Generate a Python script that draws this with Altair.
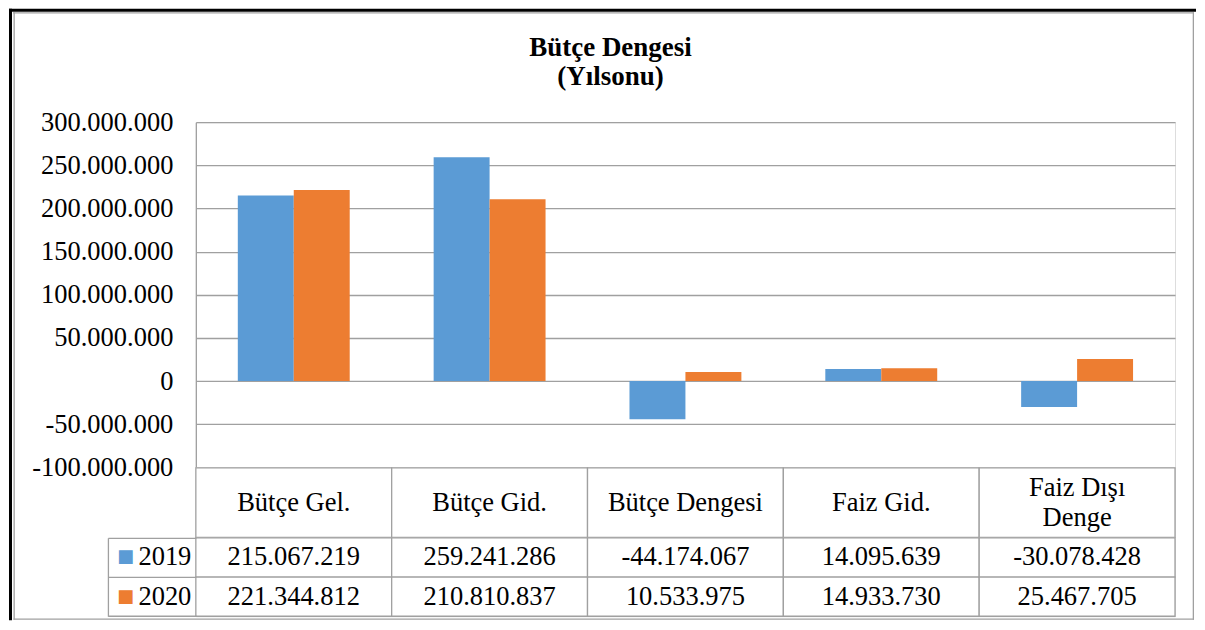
import altair as alt
import pandas as pd

categories = ["Bütçe Gel.", "Bütçe Gid.", "Bütçe Dengesi", "Faiz Gid.", "Faiz Dışı Denge"]
header_labels = ["Bütçe Gel.", "Bütçe Gid.", "Bütçe Dengesi", "Faiz Gid.", "Faiz Dışı\nDenge"]
years = ["2019", "2020"]
values_2019 = [215067219, 259241286, -44174067, 14095639, -30078428]
values_2020 = [221344812, 210810837, 10533975, 14933730, 25467705]
y_ticks = [-100000000, -50000000, 0, 50000000, 100000000, 150000000,
           200000000, 250000000, 300000000]
colors = ["#5B9BD5", "#ED7D31"]
title_lines = ["Bütçe Dengesi", "(Yılsonu)"]

rows = []
for cat, v19, v20 in zip(categories, values_2019, values_2020):
    rows.append({"cat": cat, "year": years[0], "value": v19})
    rows.append({"cat": cat, "year": years[1], "value": v20})
df = pd.DataFrame(rows)
hdr = pd.DataFrame({"cat": categories, "label": header_labels})

FONT = "Liberation Serif"
FS = 26.5
GRID = "#A0A0A0"
W = 980
H_PLOT = 345.5
H_HDR = 69.5
H_TAB = 78.5

x_band = alt.Scale(domain=categories, paddingInner=0, paddingOuter=0)
x_enc = alt.X("cat:N", scale=x_band, axis=None)

bars = alt.Chart(df).mark_bar().encode(
    x=x_enc,
    xOffset=alt.XOffset("year:N", scale=alt.Scale(domain=years, paddingInner=0, paddingOuter=0.75)),
    y=alt.Y("value:Q",
            scale=alt.Scale(domain=[y_ticks[0], y_ticks[-1]], nice=False),
            axis=alt.Axis(values=y_ticks, format=",d", grid=True, gridColor=GRID,
                          gridWidth=1.3, domain=True, domainColor=GRID, domainWidth=1.3,
                          ticks=False, labelFont=FONT, labelFontSize=FS,
                          labelColor="black", labelPadding=23, labelFlush=False,
                          title=None)),
    color=alt.Color("year:N", scale=alt.Scale(domain=years, range=colors), legend=None),
).properties(
    width=W, height=H_PLOT,
    title=alt.TitleParams(text=title_lines, font=FONT, fontSize=27, fontWeight="bold",
                          color="black", anchor="middle", frame="group", dx=-75,
                          offset=18, lineHeight=29),
)

hdr_rect = alt.Chart(hdr).mark_rect(fill="white", stroke=GRID, strokeWidth=1.3).encode(x=x_enc)
hdr_text1 = alt.Chart(hdr).transform_filter("indexof(datum.label, '\\n') < 0").mark_text(
    font=FONT, fontSize=FS, baseline="middle", color="black").encode(x=x_enc, text="label:N")
hdr_text2 = alt.Chart(hdr).transform_filter("indexof(datum.label, '\\n') >= 0").mark_text(
    font=FONT, fontSize=FS, lineBreak="\n", lineHeight=30, baseline="middle", dy=-15,
    color="black").encode(x=x_enc, text="label:N")
header = alt.layer(hdr_rect, hdr_text1, hdr_text2).properties(width=W, height=H_HDR)

y_scale = alt.Scale(domain=years, paddingInner=0, paddingOuter=0)
tab_rect = alt.Chart(df).mark_rect(fill="white", stroke=GRID, strokeWidth=1.3).encode(
    x=x_enc,
    y=alt.Y("year:N", scale=y_scale,
            axis=alt.Axis(orient="left", domain=False, ticks=True, tickSize=88,
                          tickColor=GRID, tickWidth=1.3, bandPosition=1, tickExtra=True,
                          labels=True, labelPadding=-83, labelOffset=0,
                          labelAlign="right", labelBaseline="middle", labelFont=FONT,
                          labelFontSize=FS, labelColor="black", title=None)),
)
tab_text = alt.Chart(df).mark_text(font=FONT, fontSize=FS, baseline="middle", color="black").encode(
    x=x_enc,
    y=alt.Y("year:N", scale=y_scale,
            axis=alt.Axis(orient="left", offset=88, domain=True, domainColor=GRID,
                          domainWidth=1.3, ticks=False, labelExpr="'■'",
                          labelColor={"condition": {"test": "datum.value == '2019'",
                                                    "value": colors[0]},
                                      "value": colors[1]},
                          labelAlign="left", labelPadding=-9, labelFont="DejaVu Sans",
                          labelFontSize=18, labelBaseline="middle", title=None)),
    text=alt.Text("value:Q", format=",d"),
)

one = alt.Data(values=[{"k": 1}])


def frame_bar(color, x, x2, y, y2):
    return alt.Chart(one).mark_rect(fill=color, strokeWidth=0).encode(
        x=alt.value(x), x2=alt.value(x2), y=alt.value(y), y2=alt.value(y2))


# decorative outer frame, relative to the table's plot origin
frames = [
    frame_bar("black", -187, 1001, -529.5, -526.5),
    frame_bar("black", -187, -184, -529.5, 82.5),
    frame_bar(GRID, -183, 999, -526, -524.7),
    frame_bar(GRID, -182.5, -181.2, -526, 82),
    frame_bar(GRID, 997.7, 999, -526, 82),
    frame_bar(GRID, -182.5, 999, 80.7, 82),
]

table = alt.layer(tab_rect, tab_text, *frames).resolve_axis(y="independent").properties(
    width=W, height=H_TAB)

chart = alt.vconcat(bars, header, table, spacing=0, bounds="flush", padding=0,
                    background="white").configure_view(stroke="transparent").configure(
    locale={"number": {"decimal": ",", "thousands": ".", "grouping": [3],
                       "currency": ["", ""], "minus": "-"}})

chart.save("out.html", embed_options={"renderer": "svg", "actions": False})
